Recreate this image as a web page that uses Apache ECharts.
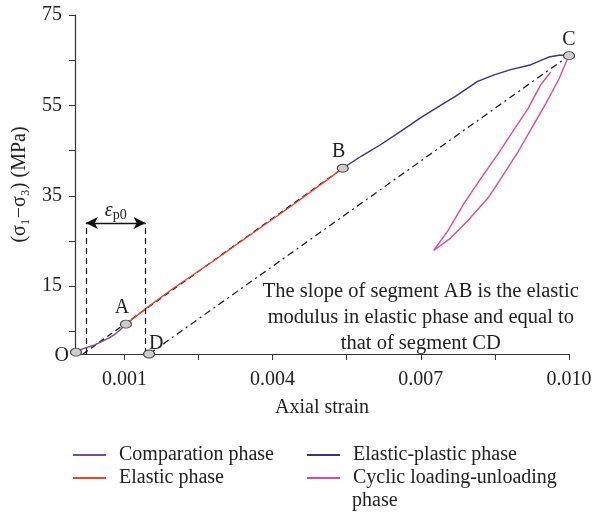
<!DOCTYPE html>
<html>
<head>
<meta charset="utf-8">
<script src="https://cdn.jsdelivr.net/npm/echarts@6/dist/echarts.min.js"></script>
<style>
  html, body { margin: 0; padding: 0; background: #fff; }
  #chart { width: 595px; height: 513px; }
</style>
</head>
<body>
<div id="chart"></div>
<script>
// Stress–strain curve of a rock specimen under cyclic loading
const compStrain = [0.00003, 0.0001, 0.0002, 0.0004, 0.00055, 0.00068, 0.0008, 0.00091, 0.00103];
const compStress = [0.5, 0.9, 1.3, 2.0, 2.8, 3.5, 4.3, 5.3, 6.6];

const elasticStrain = [0.00103, 0.0015, 0.002, 0.0027, 0.0035, 0.0044, 0.0052, 0.00542];
const elasticStress = [6.6, 10.6, 14.6, 19.8, 26.0, 32.9, 39.3, 41.1];

const plasticStrain = [0.00542, 0.0058, 0.0062, 0.0066, 0.0070, 0.0074, 0.0077, 0.00815, 0.0085, 0.00882, 0.00923, 0.00959, 0.0098, 0.0100];
const plasticStress = [41.1, 43.8, 46.4, 49.3, 52.3, 55.0, 57.0, 60.3, 61.8, 62.9, 64.0, 65.7, 66.1, 66.1];

const cyclicStrain = [0.0100, 0.00996, 0.0098, 0.00953, 0.00923, 0.00897, 0.00868, 0.00836, 0.00795, 0.00761, 0.00726,
                      0.00755, 0.00787, 0.00822, 0.00856, 0.00886, 0.00917, 0.00943, 0.00963];
const cyclicStress = [66.0, 65.1, 60.9, 55.4, 49.7, 44.8, 39.8, 34.5, 29.5, 25.7, 22.9,
                      27.3, 33.2, 38.9, 44.2, 49.2, 54.3, 59.6, 62.4];

// Straight elastic line through AB and the parallel unloading line CD
const fitStrain = [0.00016, 0.00542];
const fitStress = [0, 41.1];
const unloadStrain = [0.0015, 0.0100];
const unloadStress = [0, 66.0];

// Key points on the curve
const pointNames = ['O', 'A', 'B', 'C', 'D'];
const pointStrain = [0.00002, 0.00103, 0.00542, 0.0100, 0.0015];
const pointStress = [0.4, 6.6, 41.1, 66.0, 0];

// Residual strain bracket (ε_p0)
const epsLeft = 0.00022;
const epsRight = 0.00143;
const epsLevel = 29;

const xTicks = [0.001, 0.0025, 0.004, 0.0055, 0.007, 0.0085, 0.010];
const xLabels = [0.001, 0.004, 0.007, 0.010];
const yTicks = [5, 15, 25, 35, 45, 55, 65, 75];
const yLabels = [15, 35, 55, 75];

const seriesNames = ['Comparation phase', 'Elastic phase', 'Elastic-plastic phase', 'Cyclic loading-unloading phase'];
const colors = ['#7d4a9e', '#f0412a', '#3b2e8c', '#d84aa8'];

const zip = (xs, ys) => xs.map((x, i) => [x, ys[i]]);
const FONT = '"Liberation Serif", "DejaVu Serif", serif';
const FS = 20;

const chart = echarts.init(document.getElementById('chart'), null, { renderer: 'canvas' });

const curve = (i, xs, ys, z) => ({
  name: seriesNames[i],
  type: 'line',
  data: zip(xs, ys),
  showSymbol: false,
  symbol: 'none',
  lineStyle: { color: colors[i], width: 1.4 },
  itemStyle: { color: colors[i] },
  z: z,
  animation: false
});

const legendCommon = {
  orient: 'vertical',
  top: 444,
  icon: 'rect',
  itemWidth: 33,
  itemHeight: 2,
  itemGap: 1,
  padding: 0,
  selectedMode: false,
  textStyle: { fontFamily: FONT, fontSize: FS, color: '#222', lineHeight: 22, padding: [0, 0, 0, 8] }
};

chart.setOption({
  animation: false,
  backgroundColor: '#fff',
  grid: { left: 75, right: 26, top: 15, bottom: 159 },
  xAxis: {
    type: 'value',
    min: 0,
    max: 0.010,
    name: 'Axial strain',
    nameLocation: 'middle',
    nameGap: 44,
    nameTextStyle: { fontFamily: FONT, fontSize: FS, color: '#222' },
    axisLine: { show: true, lineStyle: { color: '#333', width: 1.2 } },
    axisTick: { show: true, inside: false, length: 6, customValues: xTicks, lineStyle: { color: '#333' } },
    axisLabel: {
      customValues: xLabels,
      margin: 16,
      fontFamily: FONT, fontSize: FS, color: '#222',
      formatter: v => v.toFixed(3)
    },
    splitLine: { show: false }
  },
  yAxis: {
    type: 'value',
    min: 0,
    max: 75,
    name: '(σ\u2081\u2212σ\u2083) (MPa)',
    nameLocation: 'middle',
    nameGap: 45,
    nameTextStyle: { fontFamily: FONT, fontSize: FS, color: '#222' },
    axisLine: { show: true, lineStyle: { color: '#333', width: 1.2 } },
    axisTick: { show: true, inside: false, length: 6, customValues: yTicks, lineStyle: { color: '#333' } },
    axisLabel: {
      customValues: yLabels,
      margin: 13,
      fontFamily: FONT, fontSize: FS, color: '#222'
    },
    splitLine: { show: false }
  },
  legend: [
    Object.assign({}, legendCommon, { left: 73, data: [seriesNames[0], seriesNames[1]] }),
    Object.assign({}, legendCommon, {
      left: 307,
      data: [seriesNames[2], seriesNames[3]],
      formatter: n => n === seriesNames[3] ? 'Cyclic loading-unloading' : n
    })
  ],
  series: [
    {
      // elastic reference line through A and B
      type: 'line',
      data: zip(fitStrain, fitStress),
      symbol: 'none',
      lineStyle: { color: '#111', width: 1.3, type: [6, 4] },
      z: 2,
      silent: true,
      markLine: {
        silent: true,
        symbol: ['none', 'none'],
        label: { show: false },
        lineStyle: { color: '#111', width: 1.2, type: [6, 4] },
        data: [
          [{ coord: [epsLeft, 0] }, { coord: [epsLeft, epsLevel] }],
          [{ coord: [epsRight, 0] }, { coord: [epsRight, epsLevel] }]
        ]
      }
    },
    {
      // unloading line C–D
      type: 'line',
      data: zip(unloadStrain, unloadStress),
      symbol: 'none',
      lineStyle: { color: '#111', width: 1.2, type: [7, 4, 2, 4] },
      z: 2,
      silent: true,
      markLine: {
        silent: true,
        symbol: ['arrow', 'arrow'],
        symbolSize: [9, 12],
        label: { show: false },
        lineStyle: { color: '#111', width: 1.3, type: 'solid' },
        data: [
          [{ coord: [epsLeft, epsLevel] }, { coord: [epsRight, epsLevel] }]
        ]
      }
    },
    curve(0, compStrain, compStress, 4),
    curve(1, elasticStrain, elasticStress, 4),
    curve(2, plasticStrain, plasticStress, 4),
    curve(3, cyclicStrain, cyclicStress, 3),
    {
      type: 'scatter',
      data: pointNames.map((n, i) => {
        const pos = {
          O: { position: 'left', distance: 1, offset: [0, 4] },
          A: { position: 'top', distance: 2, offset: [-4, 0] },
          B: { position: 'top', distance: 2, offset: [-4, 0] },
          C: { position: 'top', distance: 2, offset: [0, 0] },
          D: { position: 'top', distance: 0, offset: [7, 4] }
        }[n];
        return { value: [pointStrain[i], pointStress[i]], name: n, label: pos };
      }),
      symbol: 'circle',
      symbolSize: [11, 8],
      clip: false,
      itemStyle: { color: '#cdcdcd', borderColor: '#444', borderWidth: 1, opacity: 1 },
      label: {
        show: true,
        formatter: p => p.name,
        fontFamily: FONT, fontSize: FS, color: '#222'
      },
      z: 10,
      silent: true
    }
  ]
});

// Text annotations placed in data coordinates
const annotate = () => {
  const pEps = chart.convertToPixel({ gridIndex: 0 }, [(epsLeft + epsRight) / 2, epsLevel]);
  const pNote = chart.convertToPixel({ gridIndex: 0 }, [0.0070, 8.0]);
  chart.setOption({
    graphic: [
      {
        type: 'text',
        left: 352,
        top: 491,
        style: { text: 'phase', fontFamily: FONT, fontSize: FS, fill: '#222' }
      },
      {
        type: 'text',
        x: pEps[0],
        y: pEps[1] - 12,
        style: {
          text: '{e|ε}{s|p0}',
          align: 'center',
          verticalAlign: 'middle',
          rich: {
            e: { fontFamily: FONT, fontSize: 20, fontStyle: 'italic', fill: '#222' },
            s: { fontFamily: FONT, fontSize: 14, fill: '#222', padding: [8, 0, 0, 0] }
          }
        }
      },
      {
        type: 'text',
        x: pNote[0],
        y: pNote[1],
        style: {
          text: 'The slope of segment AB is the elastic\nmodulus in elastic phase and equal to\nthat of segment CD',
          align: 'center',
          verticalAlign: 'middle',
          fontFamily: FONT, fontSize: 20.5, lineHeight: 26, fill: '#222'
        }
      }
    ]
  });
};
annotate();
</script>
</body>
</html>
